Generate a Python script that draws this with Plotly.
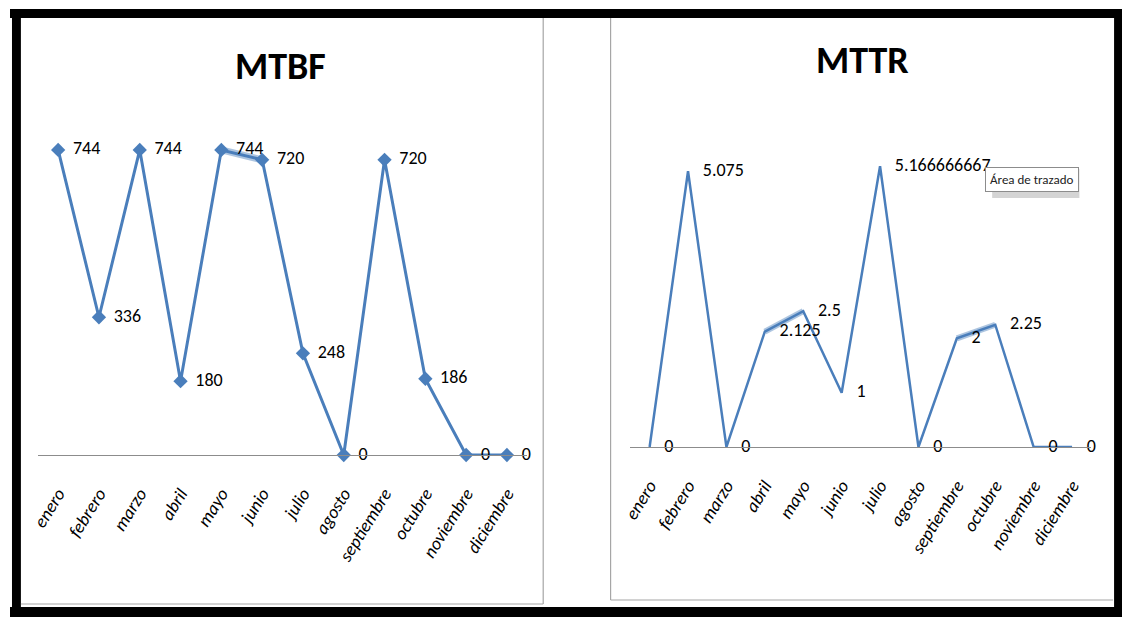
import plotly.graph_objects as go

# ---- data ----
meses = ["enero", "febrero", "marzo", "abril", "mayo", "junio", "julio",
         "agosto", "septiembre", "octubre", "noviembre", "diciembre"]
mtbf = [744, 336, 744, 180, 744, 720, 248, 0, 720, 186, 0, 0]
mttr = [0, 5.075, 0, 2.125, 2.5, 1, 5.166666667, 0, 2, 2.25, 0, 0]
# segments shown as "selected" (thicker, blurred) in the screenshot
mtbf_sel = ["mayo", "junio"]
mttr_sel = ["abril", "mayo", None, "septiembre", "octubre"]


def fmt(v):
    return ("%.9f" % v).rstrip("0").rstrip(".")


W, H = 1122, 617


def px(x):
    return x / W


def py(y):
    return 1 - y / H


BLUE = "#4A7EBB"
FONT = "Carlito, Lato, sans-serif"

fig = go.Figure()

# selection highlight segments
fig.add_trace(go.Scatter(
    x=mtbf_sel, y=[mtbf[meses.index(m)] for m in mtbf_sel], mode="lines",
    line=dict(color="rgba(74,126,187,0.45)", width=7), cliponaxis=False,
    xaxis="x", yaxis="y", showlegend=False, hoverinfo="skip"))
fig.add_trace(go.Scatter(
    x=[m if m else "abril" for m in mttr_sel],
    y=[mttr[meses.index(m)] if m else None for m in mttr_sel], mode="lines",
    line=dict(color="rgba(74,126,187,0.45)", width=6), cliponaxis=False, connectgaps=False,
    xaxis="x2", yaxis="y2", showlegend=False, hoverinfo="skip"))

fig.add_trace(go.Scatter(
    x=meses, y=mtbf, mode="lines+markers",
    line=dict(color=BLUE, width=3),
    marker=dict(symbol="diamond", size=11, color=BLUE),
    cliponaxis=False, xaxis="x", yaxis="y", showlegend=False,
))
fig.add_trace(go.Scatter(
    x=meses, y=mttr, mode="lines",
    line=dict(color=BLUE, width=2.5),
    cliponaxis=False, xaxis="x2", yaxis="y2", showlegend=False,
))

# data labels (invisible markers give the gap to the right of each point)
labfont = dict(family=FONT, size=18, color="#000")
fig.add_trace(go.Scatter(
    x=meses, y=mtbf, mode="markers+text", text=[fmt(v) for v in mtbf],
    textposition="middle right", textfont=labfont,
    marker=dict(size=22, color="rgba(0,0,0,0)"),
    cliponaxis=False, xaxis="x", yaxis="y", showlegend=False, hoverinfo="skip"))
fig.add_trace(go.Scatter(
    x=meses, y=mttr, mode="markers+text", text=[fmt(v) for v in mttr],
    textposition="middle right", textfont=labfont,
    marker=dict(size=22, color="rgba(0,0,0,0)"),
    cliponaxis=False, xaxis="x2", yaxis="y2", showlegend=False, hoverinfo="skip"))

tickfont = dict(family=FONT, size=18, color="#000", style="italic")

axis_common = dict(type="category", tickangle=-58, showline=True, linecolor="#8c8c8c",
                   linewidth=1.2, showgrid=False, zeroline=False, ticks="",
                   ticklabelstandoff=20,
                   tickfont=tickfont, fixedrange=True, categoryorder="array",
                   categoryarray=meses)

fig.update_layout(
    width=W, height=H, margin=dict(l=0, r=0, t=0, b=0),
    paper_bgcolor="white", plot_bgcolor="rgba(0,0,0,0)",
    xaxis=dict(domain=[px(28), px(522)], range=[-0.5, 11.5], anchor="y", **axis_common),
    yaxis=dict(domain=[py(455), py(127)], range=[0, 800], visible=False, anchor="x"),
    xaxis2=dict(domain=[px(626), px(1091)], range=[-0.5, 11.5], anchor="y2", **axis_common),
    yaxis2=dict(domain=[py(447), py(121)], range=[0, 6], visible=False, anchor="x2"),
)

shapes = []


def rect(x0, y0, x1, y1, color):
    shapes.append(dict(type="rect", xref="paper", yref="paper", x0=px(x0), x1=px(x1),
                       y0=py(y1), y1=py(y0), fillcolor=color, line=dict(width=0), layer="below"))


def line(x0, y0, x1, y1, color="#a6a6a6", w=1.2):
    shapes.append(dict(type="line", xref="paper", yref="paper", x0=px(x0), x1=px(x1),
                       y0=py(y0), y1=py(y1), line=dict(color=color, width=w), layer="below"))


# outer black frame
rect(0, 9, 1122, 18, "black")
rect(2, 9, 11, 617, "black")
rect(1114, 9, 1122, 617, "black")
rect(0, 607, 1122, 617, "black")
# panel borders
line(538, 18, 538, 604)
line(11, 604, 538, 604)
line(606, 18, 606, 600)
line(606, 600, 1113, 600)
# tooltip shadow
rect(991, 169, 1079, 198, "#d4d4d4")

fig.update_layout(shapes=shapes)

fig.add_annotation(x=px(273), y=py(66), xref="paper", yref="paper", text="<b>MTBF</b>",
                   xanchor="center", yanchor="middle",
                   showarrow=False, font=dict(family=FONT, size=38, color="#000"))
fig.add_annotation(x=px(860), y=py(60), xref="paper", yref="paper", text="<b>MTTR</b>",
                   xanchor="center", yanchor="middle",
                   showarrow=False, font=dict(family=FONT, size=38, color="#000"))
fig.add_annotation(x=px(1031), y=py(180), xref="paper", yref="paper", text="Área de trazado",
                   xanchor="center", yanchor="middle",
                   showarrow=False, font=dict(family=FONT, size=13, color="#222"),
                   bgcolor="white", bordercolor="#8c8c8c", borderwidth=1, borderpad=4)

fig.write_html("out.html")
